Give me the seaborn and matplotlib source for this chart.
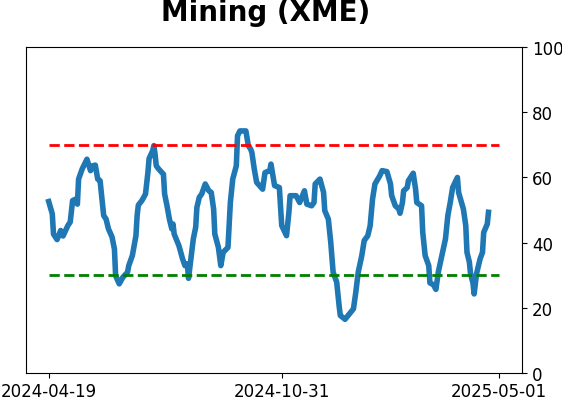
import numpy as np
import pandas as pd
import matplotlib
matplotlib.use("Agg")
import matplotlib.pyplot as plt
import seaborn as sns

title = "Mining (XME)"
start_date = "2024-04-19"
# days since start_date
day_offsets = [0, 3, 4, 7, 10, 12, 16, 18, 20, 23, 24, 25, 28, 32, 35, 37, 39, 41, 43, 46,
               48, 50, 53, 55, 56, 59, 62, 66, 67, 70, 73, 74, 75, 78, 81, 83, 84, 87, 88, 89,
               90, 92, 96, 97, 99, 101, 103, 104, 105, 109, 112, 114, 116, 117, 119, 121, 123, 124, 126, 128,
               131, 134, 136, 138, 139, 142, 144, 146, 150, 152, 154, 157, 158, 160, 165, 167, 169, 170, 172, 174,
               179, 181, 185, 186, 189, 193, 194, 195, 199, 201, 202, 207, 210, 214, 216, 220, 222, 223, 227, 230,
               231, 234, 236, 238, 241, 243, 244, 248, 251, 255, 257, 259, 262, 264, 267, 269, 271, 273, 277, 279,
               283, 286, 287, 290, 293, 294, 296, 297, 300, 301, 305, 307, 308, 312, 313, 315, 318, 319, 322, 324,
               326, 329, 332, 334, 336, 338, 342, 343, 347, 349, 350, 352, 353, 355, 356, 358, 361, 363, 364, 367,
               368]
values = [52.6, 48.8, 42.6, 40.9, 43.7, 42.0, 45.2, 46.3, 52.9, 53.4, 51.8, 59.5, 62.6, 65.6, 62.1, 63.6, 63.8, 59.5, 59.0, 48.3,
          47.2, 44.2, 41.7, 38.0, 29.8, 27.3, 29.3, 30.9, 32.9, 36.0, 42.1, 48.3, 51.5, 52.9, 54.9, 61.5, 65.8, 68.2, 69.8, 67.2,
          63.6, 62.6, 61.0, 54.9, 51.3, 47.2, 44.2, 45.7, 42.6, 39.0, 35.0, 32.9, 33.4, 29.0, 35.0, 41.1, 44.7, 50.8, 53.9, 54.9,
          58.0, 55.9, 55.4, 50.3, 42.6, 38.5, 32.9, 37.0, 38.5, 52.3, 59.5, 63.6, 72.8, 74.3, 74.3, 69.8, 68.7, 67.7, 62.6, 58.5,
          56.4, 61.5, 62.1, 64.1, 57.5, 56.9, 51.3, 45.2, 42.1, 49.3, 54.4, 54.4, 52.3, 55.9, 51.8, 51.3, 52.3, 58.0, 59.5, 55.4,
          49.8, 47.2, 40.1, 30.9, 27.8, 20.6, 17.6, 16.4, 17.8, 19.6, 24.8, 30.9, 36.0, 40.6, 42.1, 45.2, 53.4, 58.0, 60.5, 62.1,
          61.8, 58.0, 54.4, 51.3, 50.3, 49.0, 52.3, 55.9, 56.9, 59.0, 61.3, 56.4, 52.3, 51.3, 43.1, 36.0, 32.9, 27.6, 27.0, 25.6,
          30.9, 36.0, 41.1, 48.3, 52.3, 56.9, 60.0, 55.4, 50.3, 45.2, 37.0, 34.0, 30.4, 27.6, 24.2, 30.4, 35.0, 37.0, 43.1, 45.7,
          49.3]
upper_level = 70
lower_level = 30
xtick_labels = ["2024-04-19", "2024-10-31", "2025-05-01"]
ytick_values = [0, 20, 40, 60, 80, 100]

dates = pd.to_datetime(start_date) + pd.to_timedelta(day_offsets, unit="D")
df = pd.DataFrame({"date": dates, "value": values})

fig = plt.figure(figsize=(5.62, 4.02), dpi=100)
ax = fig.add_axes([26 / 562, 1 - 373.7 / 402, (522.3 - 26) / 562, (373.7 - 48.3) / 402])

sns.lineplot(data=df, x="date", y="value", ax=ax, color="#1f77b4", linewidth=4)

xt = pd.to_datetime(xtick_labels)
ax.hlines(upper_level, xt[0], xt[-1], colors="red", linestyles="--", linewidth=2)
ax.hlines(lower_level, xt[0], xt[-1], colors="green", linestyles="--", linewidth=2)

ax.set_xlim(xt[0] - pd.Timedelta(days=19), xt[-1] + pd.Timedelta(days=19.3))
ax.set_ylim(0, 100)
ax.set_xticks(xt)
ax.set_xticklabels(xtick_labels, fontsize=12)
ax.yaxis.tick_right()
ax.set_yticks(ytick_values)
ax.set_yticklabels([str(v) for v in ytick_values], fontsize=12)
ax.set_xlabel("")
ax.set_ylabel("")

fig.text(265.8 / 562, 1 - 21 / 402, title, fontsize=20, fontweight="bold",
         ha="center", va="baseline")

fig.savefig("out.png", dpi=100)
